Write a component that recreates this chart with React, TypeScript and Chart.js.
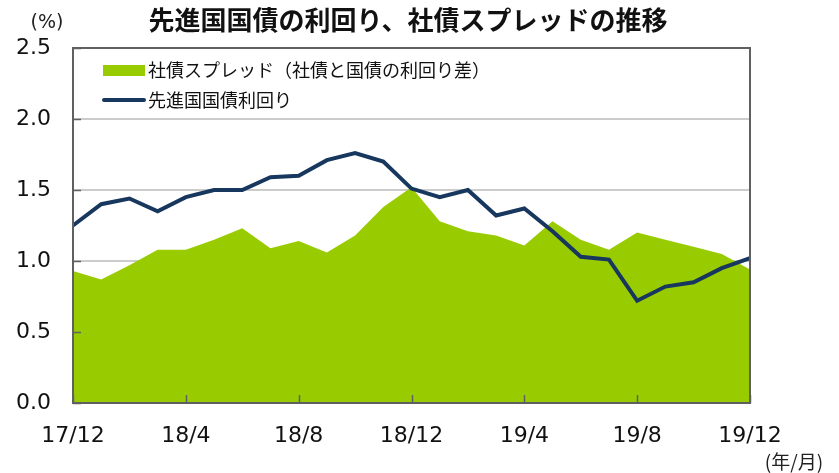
import React, { useEffect, useRef } from "react";
import { Chart, registerables } from "chart.js";

Chart.register(...registerables);

const months = [
  "17/12", "18/1", "18/2", "18/3", "18/4", "18/5", "18/6", "18/7", "18/8", "18/9", "18/10", "18/11",
  "18/12", "19/1", "19/2", "19/3", "19/4", "19/5", "19/6", "19/7", "19/8", "19/9", "19/10", "19/11", "19/12",
];
const spreadValues = [
  0.93, 0.87, 0.97, 1.08, 1.08, 1.15, 1.23, 1.09, 1.14, 1.06, 1.18, 1.38,
  1.52, 1.28, 1.21, 1.18, 1.11, 1.28, 1.15, 1.08, 1.2, 1.15, 1.1, 1.05, 0.94,
];
const yieldValues = [
  1.25, 1.4, 1.44, 1.35, 1.45, 1.5, 1.5, 1.59, 1.6, 1.71, 1.76, 1.7,
  1.51, 1.45, 1.5, 1.32, 1.37, 1.21, 1.03, 1.01, 0.72, 0.82, 0.85, 0.95, 1.02,
];
const yTicks = [0, 0.5, 1.0, 1.5, 2.0, 2.5];

const titleText = "先進国国債の利回り、社債スプレッドの推移";
const spreadLabel = "社債スプレッド（社債と国債の利回り差）";
const yieldLabel = "先進国国債利回り";
const yUnit = "(%)";
const xUnit = "(年/月)";

const GREEN = "#99cc00";
const NAVY = "#17375e";
const NUM_FONT = "'DejaVu Sans', 'Noto Sans CJK JP', sans-serif";
const JP_FONT = "'Noto Sans CJK JP', 'DejaVu Sans', sans-serif";

const decorPlugin = {
  id: "decor",
  afterDatasetsDraw(chart: any) {
    const ctx = chart.ctx;
    const { left, right, top, bottom } = chart.chartArea;
    const xs = chart.scales.x;
    const ys = chart.scales.y;
    ctx.save();
    // inward tick marks
    ctx.strokeStyle = "#606060";
    ctx.lineWidth = 1.5;
    yTicks.forEach((v) => {
      const y = Math.round(ys.getPixelForValue(v)) + 0.5;
      ctx.beginPath();
      ctx.moveTo(left, y);
      ctx.lineTo(left + 8, y);
      ctx.stroke();
    });
    months.forEach((_, i) => {
      if (i % 4 !== 0) return;
      const x = Math.round(xs.getPixelForValue(i)) + 0.5;
      ctx.beginPath();
      ctx.moveTo(x, bottom);
      ctx.lineTo(x, bottom - 8);
      ctx.stroke();
    });
    // plot border
    ctx.strokeStyle = "#606060";
    ctx.lineWidth = 2;
    ctx.strokeRect(left, top, right - left, bottom - top);
    ctx.restore();
  },
  afterDraw(chart: any) {
    const ctx = chart.ctx;
    ctx.save();
    // title
    ctx.fillStyle = "#111111";
    ctx.textAlign = "center";
    ctx.textBaseline = "middle";
    ctx.font = `bold 26px ${JP_FONT}`;
    ctx.fillText(titleText, 408, 20);
    // units
    ctx.font = `19px ${NUM_FONT}`;
    ctx.fillStyle = "#222222";
    ctx.fillText(yUnit, 47, 23);
    ctx.font = `19px ${JP_FONT}`;
    ctx.fillText(xUnit, 794, 462);
    // legend
    ctx.fillStyle = GREEN;
    ctx.fillRect(103, 65, 42, 11);
    ctx.strokeStyle = NAVY;
    ctx.lineWidth = 4;
    ctx.lineCap = "round";
    ctx.beginPath();
    ctx.moveTo(104, 100);
    ctx.lineTo(144, 100);
    ctx.stroke();
    ctx.fillStyle = "#111111";
    ctx.textAlign = "left";
    ctx.font = `18px ${JP_FONT}`;
    ctx.fillText(spreadLabel, 148, 70);
    ctx.fillText(yieldLabel, 148, 100);
    ctx.restore();
  },
};

export default function App() {
  const ref = useRef<HTMLCanvasElement>(null);
  useEffect(() => {
    document.body.style.margin = "0";
    const canvas = ref.current;
    if (!canvas) return;
    const chart = new Chart(canvas, {
      type: "line",
      data: {
        labels: months,
        datasets: [
          {
            label: spreadLabel,
            data: spreadValues,
            backgroundColor: GREEN,
            borderColor: GREEN,
            borderWidth: 0,
            fill: "origin",
            pointRadius: 0,
            tension: 0,
            order: 2,
          },
          {
            label: yieldLabel,
            data: yieldValues,
            borderColor: NAVY,
            backgroundColor: NAVY,
            borderWidth: 4,
            fill: false,
            pointRadius: 0,
            tension: 0,
            order: 1,
          },
        ],
      },
      options: {
        responsive: false,
        animation: false,
        layout: { padding: { left: 0, top: 48, right: 89, bottom: 0 } },
        plugins: {
          legend: { display: false },
          title: { display: false },
          tooltip: { enabled: false },
        },
        scales: {
          x: {
            type: "category",
            offset: false,
            grid: { display: false, drawTicks: false },
            border: { display: false },
            ticks: {
              autoSkip: false,
              maxRotation: 0,
              padding: 20,
              color: "#111111",
              font: { family: NUM_FONT, size: 22 },
              callback: (_v: any, i: number) => (i % 4 === 0 ? months[i] : ""),
            },
            afterFit: (s: any) => {
              s.height = 70;
            },
          },
          y: {
            min: 0,
            max: 2.5,
            grid: { color: "#cccccc", lineWidth: 2, drawTicks: false },
            border: { display: false },
            ticks: {
              stepSize: 0.5,
              padding: 22,
              color: "#111111",
              font: { family: NUM_FONT, size: 22 },
              callback: (v: any) => Number(v).toFixed(1),
            },
            afterFit: (s: any) => {
              s.width = 73;
            },
          },
        },
      },
      plugins: [decorPlugin],
    });
    return () => chart.destroy();
  }, []);
  return (
    <canvas
      ref={ref}
      width={839}
      height={473}
      style={{ display: "block", width: 839, height: 473 }}
    />
  );
}
